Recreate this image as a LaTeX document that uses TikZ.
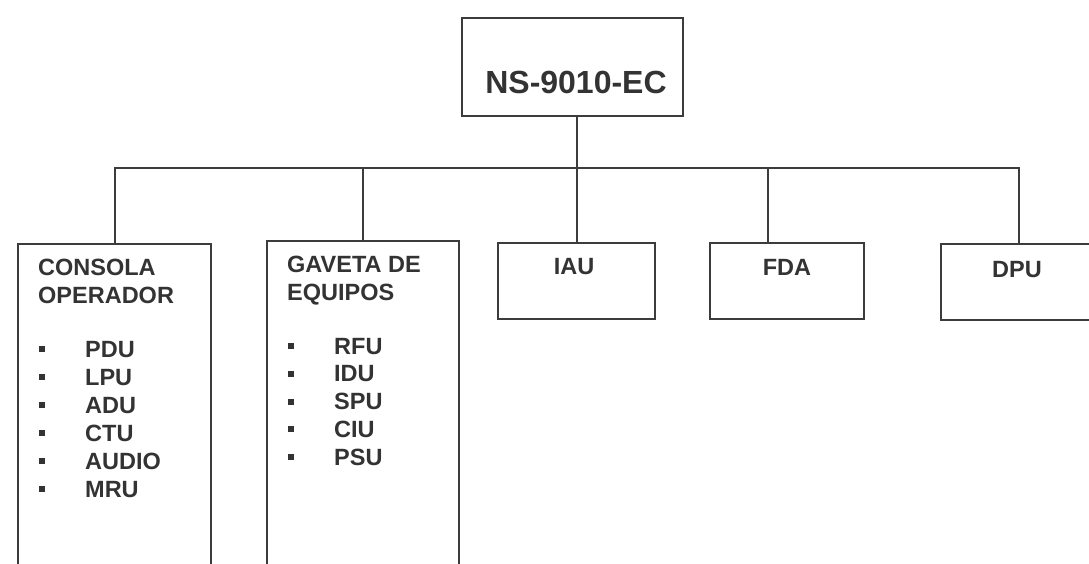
\documentclass[tikz,border=0pt]{standalone}
\usepackage{fontspec}
\setmainfont{Liberation Sans}
\definecolor{ink}{HTML}{333333}
\definecolor{linec}{HTML}{3C3C3C}
\begin{document}
\begin{tikzpicture}[x=1pt,y=-1pt,
  box/.style={draw=linec, line width=2pt, rectangle, inner sep=0pt},
  conn/.style={draw=linec, line width=2pt},
  big/.style={text=ink, inner sep=0pt, font=\fontsize{32}{36}\selectfont\bfseries},
  lab/.style={text=ink, inner sep=0pt, font=\fontsize{23.5}{27}\selectfont\bfseries},
  bul/.style={fill=ink, draw=none, rectangle, minimum size=6pt, inner sep=0pt}
]
\useasboundingbox (0,0) rectangle (1089,563);
\clip (0,0) rectangle (1089,563);
\fill[white] (0,0) rectangle (1089,563);

% boxes
\node[box, anchor=north west, minimum width=221pt, minimum height=98pt] (top) at (461,17) {};
\node[box, anchor=north west, minimum width=193pt, minimum height=360pt] (consola) at (17,243) {};
\node[box, anchor=north west, minimum width=192pt, minimum height=360pt] (gaveta) at (266,240) {};
\node[box, anchor=north west, minimum width=157pt, minimum height=76pt] (iau) at (497,242) {};
\node[box, anchor=north west, minimum width=154pt, minimum height=76pt] (fda) at (709,242) {};
\node[box, anchor=north west, minimum width=156pt, minimum height=76pt] (dpu) at (940,243) {};

% bus
\coordinate (bus) at (576,168);
\coordinate (fdain) at (768,242);
\coordinate (dpuin) at (1019,243);
\draw[conn] (iau.north |- top.south) -- (iau.north);
\draw[conn] (consola.north) -- (consola.north |- bus) -- (dpuin |- bus) -- (dpuin);
\draw[conn] (gaveta.north) -- (gaveta.north |- bus);
\draw[conn] (fdain) -- (fdain |- bus);

% texts
\node[big, anchor=base] (ttop) at (576,93) {NS-9010-EC};
\node[lab, anchor=base] (tiau) at (574,274) {IAU};
\node[lab, anchor=base] (tfda) at (787,275) {FDA};
\node[lab, anchor=base] (tdpu) at (1017,277) {DPU};

\node[lab, anchor=base west] (h1a) at (38,275) {CONSOLA};
\node[lab, anchor=base west] (h1b) at (38,303) {OPERADOR};
\node[lab, anchor=base west] (h2a) at (287,272) {GAVETA DE};
\node[lab, anchor=base west] (h2b) at (287,300) {EQUIPOS};

\foreach \t [count=\i from 0] in {PDU,LPU,ADU,CTU,AUDIO,MRU} {
  \node[lab, anchor=base west] (ca\i) at (85,357+28*\i) {\t};
  \node[bul] (cb\i) at (42,349+28*\i) {};
}
\foreach \t [count=\i from 0] in {RFU,IDU,SPU,CIU,PSU} {
  \node[lab, anchor=base west] (ga\i) at (334,354+27.75*\i) {\t};
  \node[bul] (gb\i) at (291,346+27.75*\i) {};
}
\end{tikzpicture}
\end{document}
